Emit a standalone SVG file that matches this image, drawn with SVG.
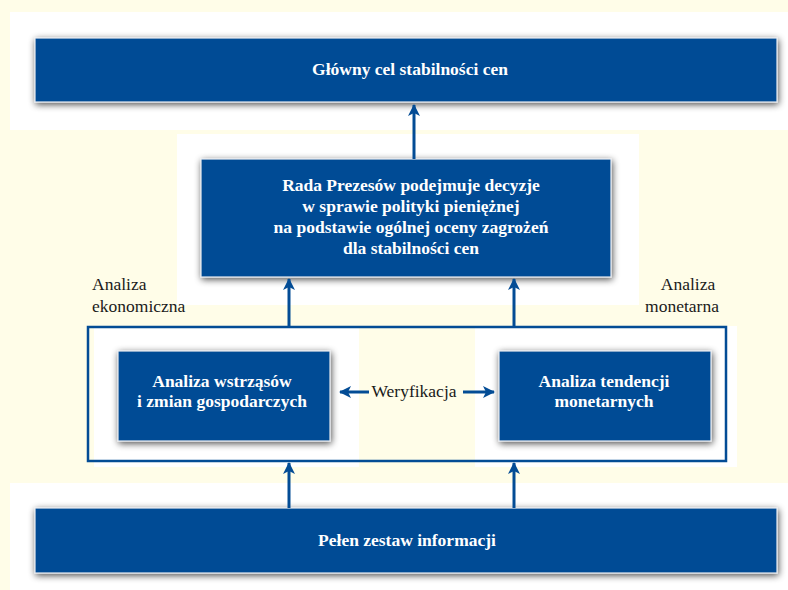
<svg xmlns="http://www.w3.org/2000/svg" width="788" height="590" viewBox="0 0 788 590">
<defs>
<filter id="sh" x="-10%" y="-30%" width="120%" height="160%">
<feGaussianBlur in="SourceAlpha" stdDeviation="3.5"/>
<feOffset dx="1" dy="2" result="b"/>
<feComponentTransfer><feFuncA type="linear" slope="0.7"/></feComponentTransfer>
<feMerge><feMergeNode/><feMergeNode in="SourceGraphic"/></feMerge>
</filter>
<marker id="ah" viewBox="0 0 12 12" refX="11" refY="6" markerWidth="12" markerHeight="12" markerUnits="userSpaceOnUse" orient="auto">
<path d="M0,0 L12,6 L0,12 L3,6 z" fill="#034C95"/>
</marker>
<style>
.panel{fill:#FFFFFF}
.box{fill:#034C95;stroke:#E6E9EE;stroke-width:1.2;filter:url(#sh)}
.bt{font-family:"Liberation Serif","Times New Roman",serif;font-weight:bold;font-size:17.5px;fill:#FFFFFF;text-anchor:middle}
.lt{font-family:"Liberation Serif","Times New Roman",serif;font-size:17.5px;fill:#1a1a1a}
.con{stroke:#034C95;stroke-width:3;fill:none;marker-end:url(#ah)}
</style>
</defs>
<rect width="788" height="590" fill="#FFFDE8"/>
<g id="panels">
<rect class="panel" x="10" y="12" width="778" height="118"/>
<rect class="panel" x="177" y="134" width="462" height="171"/>
<rect class="panel" x="94" y="327" width="265" height="140"/>
<rect class="panel" x="475" y="326" width="262" height="141"/>
<rect class="panel" x="10" y="483" width="778" height="107"/>
</g>
<g id="frame">
<rect x="88" y="327" width="638" height="134" fill="none" stroke="#034C95" stroke-width="2.5"/>
</g>
<g id="goal">
<rect class="box" x="35" y="38" width="742" height="64"/>
<text class="bt" x="410" y="75">Główny cel stabilności cen</text>
</g>
<g id="council">
<rect class="box" x="201" y="159" width="410" height="118"/>
<text class="bt" x="411" y="191">Rada Prezesów podejmuje decyzje</text>
<text class="bt" x="411" y="212">w sprawie polityki pieniężnej</text>
<text class="bt" x="411" y="233">na podstawie ogólnej oceny zagrożeń</text>
<text class="bt" x="411" y="254">dla stabilności cen</text>
</g>
<g id="economic">
<rect class="box" x="118" y="351" width="212" height="90"/>
<text class="bt" x="222" y="387">Analiza wstrząsów</text>
<text class="bt" x="222" y="407">i zmian gospodarczych</text>
</g>
<g id="monetary">
<rect class="box" x="499" y="351" width="212" height="90"/>
<text class="bt" x="604" y="387">Analiza tendencji</text>
<text class="bt" x="604" y="407">monetarnych</text>
</g>
<g id="info">
<rect class="box" x="35" y="508" width="742" height="65"/>
<text class="bt" x="407" y="546">Pełen zestaw informacji</text>
</g>
<g id="labels">
<text class="lt" x="92" y="290">Analiza</text>
<text class="lt" x="92" y="312">ekonomiczna</text>
<text class="lt" x="688" y="290" text-anchor="middle">Analiza</text>
<text class="lt" x="682" y="312" text-anchor="middle">monetarna</text>
</g>
<g id="connectors">
<line class="con" x1="414" y1="159" x2="414" y2="105"/>
<line class="con" x1="289" y1="326" x2="289" y2="279"/>
<line class="con" x1="514" y1="326" x2="514" y2="279"/>
<line class="con" x1="289" y1="508" x2="289" y2="463"/>
<line class="con" x1="514" y1="508" x2="514" y2="463"/>
<line class="con" x1="369" y1="392" x2="340" y2="392"/>
<line class="con" x1="463" y1="392" x2="494" y2="392"/>
<text class="lt" x="414" y="397" text-anchor="middle">Weryfikacja</text>
</g>
</svg>
